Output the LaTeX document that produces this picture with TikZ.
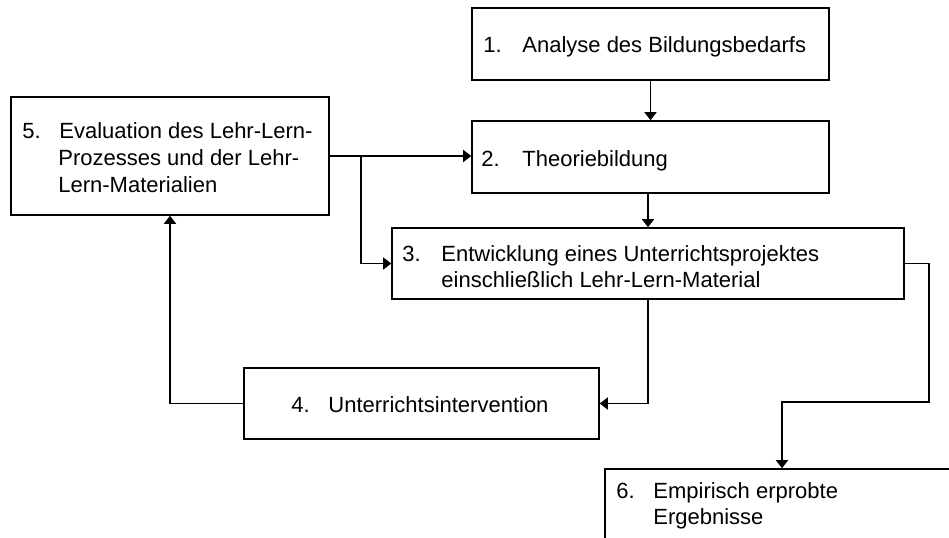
\documentclass[tikz,border=0pt]{standalone}
\usepackage{fontspec}
\setmainfont{Liberation Sans}
\usetikzlibrary{arrows.meta}
\begin{document}
\begin{tikzpicture}[x=0.5pt,y=-0.5pt,
  box/.style={draw,line width=0.8pt,rectangle,inner sep=0pt},
  txt/.style={anchor=base west,inner sep=0pt,font=\fontsize{11pt}{13.25pt}\selectfont},
  arr/.style={line width=0.8pt,-{Triangle[length=4pt,width=6pt]}},
  ln/.style={line width=0.8pt}]
\useasboundingbox (0,0) rectangle (949,537);
\clip (0,0) rectangle (949,537);
% boxes
\node[box,minimum width=178.5pt,minimum height=36pt] (b1) at (650.5,44) {};
\node[box,minimum width=178.5pt,minimum height=36pt] (b2) at (650.5,157) {};
\node[box,minimum width=159pt,minimum height=59pt] (b5) at (170,156) {};
\node[box,minimum width=256pt,minimum height=35.5pt] (b3) at (648,263.5) {};
\node[box,minimum width=177.5pt,minimum height=35.5pt] (b4) at (421.5,403.5) {};
\node[box,minimum width=197.5pt,minimum height=50.5pt] (b6) at (802.5,519.5) {};
% texts
\node[txt] (n1) at (483,52) {1.};
\node[txt] (t1) at (522,52) {Analyse des Bildungsbedarfs};
\node[txt] (n2) at (481,166) {2.};
\node[txt] (t2) at (522,166) {Theoriebildung};
\node[txt] (n5) at (22,138) {5.};
\node[txt] (t5a) at (59,138) {Evaluation des Lehr-Lern-};
\node[txt] (t5b) at (58,165) {Prozesses und der Lehr-};
\node[txt] (t5c) at (58,192) {Lern-Materialien};
\node[txt] (n3) at (402,261) {3.};
\node[txt] (t3a) at (441,261) {Entwicklung eines Unterrichtsprojektes};
\node[txt] (t3b) at (441,287) {einschließlich Lehr-Lern-Material};
\node[txt] (n4) at (291,412) {4.};
\node[txt] (t4) at (328,412) {Unterrichtsintervention};
\node[txt] (n6) at (616,498) {6.};
\node[txt] (t6a) at (653,498) {Empirisch erprobte};
\node[txt] (t6b) at (653,524) {Ergebnisse};
% connectors
\draw[arr] (b1.south) -- (b2.north);
\draw[arr] (b2.south -| b3.north) -- (b3.north);
\draw[arr] (b5.east) -- (b5.east -| b2.west);
\coordinate (br) at (361,156);
\draw[arr] (br) |- (b3.west);
\draw[arr] (b3.south) |- (b4.east);
\coordinate (c1) at (929,402);
\coordinate (c2) at (782,402);
\draw[arr] (b3.east) -| (c1) -- (c2) -- (c2 |- b6.north);
\draw[arr] (b4.west) -| (b5.south);
\end{tikzpicture}
\end{document}
